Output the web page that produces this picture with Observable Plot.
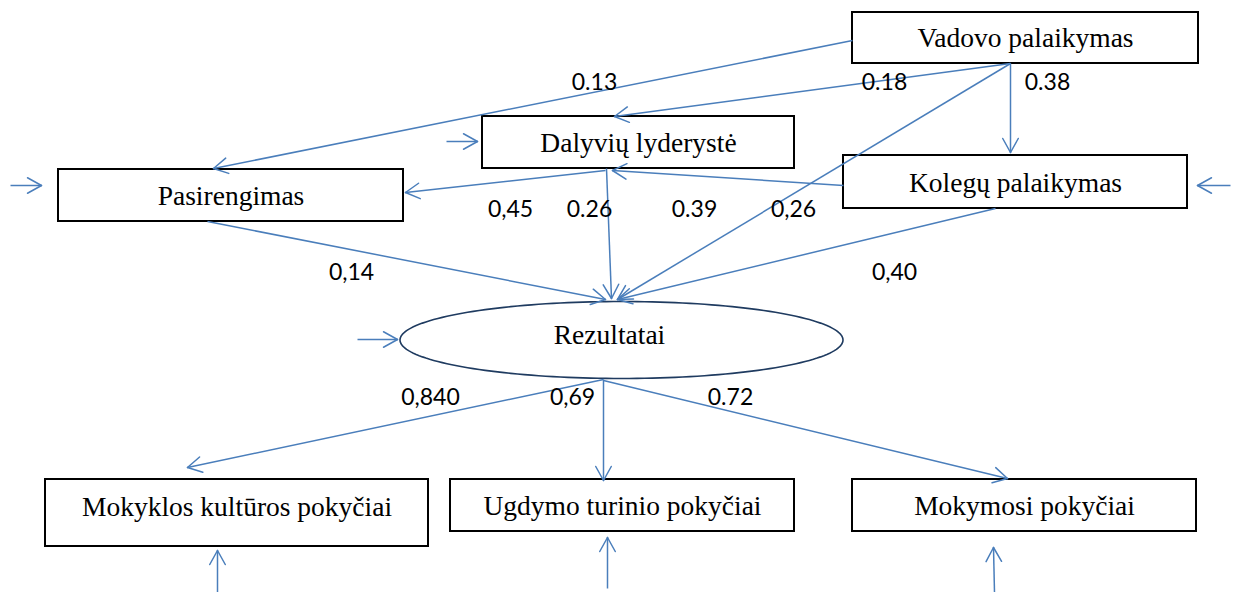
<!DOCTYPE html>
<html><head><meta charset="utf-8">
<script src="https://cdn.jsdelivr.net/npm/d3@7"></script>
<script src="https://cdn.jsdelivr.net/npm/@observablehq/plot@0.6"></script>
<style>body{margin:0;background:#fff;overflow:hidden}</style>
</head><body><div id="chart"></div>
<script>
// Nodes (rectangular variables)
const boxNames = ["Vadovo palaikymas","Dalyvių lyderystė","Pasirengimas","Kolegų palaikymas","Mokyklos kultūros pokyčiai","Ugdymo turinio pokyčiai","Mokymosi pokyčiai"];
const boxX1 = [852, 482, 58, 843, 45, 450, 852];
const boxX2 = [1198, 794, 403, 1187, 428, 794, 1196];
const boxY1 = [12, 116, 169, 155, 479, 479, 479];
const boxY2 = [63, 168, 221, 208, 546, 531, 531];
const boxTextY = [38, 143, 196, 183, 507, 506, 506];

// Latent (ellipse)
const latentName = "Rezultatai";
const latentCenter = [621, 339.5];
const latentRadii = [221.5, 38.5];
const latentTextX = 609;
const latentTextY = 335;

// Paths between variables
const pathX1 = [852, 1010, 1010, 1010, 605, 606, 843, 995, 207, 603, 603, 603];
const pathY1 = [40, 63, 63, 63, 170, 168, 185, 208, 221, 379, 379, 380];
const pathX2 = [213, 614, 1010, 617, 405, 611, 612, 617, 605, 187, 603, 1007];
const pathY2 = [168, 116, 152, 299, 192, 298, 170, 299, 299, 467, 480, 478];

// Error (disturbance) arrows
const errX1 = [10, 446, 1230, 357, 217, 607, 994];
const errY1 = [185, 141, 185, 339, 592, 588, 592];
const errX2 = [41, 477, 1197, 397, 217, 607, 993];
const errY2 = [185, 141, 185, 339, 550, 537, 547];

// Path coefficients
const coefText = ["0.13","0.18","0.38","0,45","0.26","0.39","0,26","0,14","0,40","0,840","0,69","0.72"];
const coefX = [594, 884, 1047, 510, 589, 694, 793, 351, 894, 430, 572, 730];
const coefY = [82, 82, 82, 209, 209, 209, 209, 272, 272, 397, 397, 397];

const boxes = boxNames.map((name, i) => ({name, x1: boxX1[i], x2: boxX2[i], y1: boxY1[i], y2: boxY2[i], tx: (boxX1[i] + boxX2[i]) / 2, ty: boxTextY[i]}));
const paths = pathX1.map((_, i) => ({x1: pathX1[i], y1: pathY1[i], x2: pathX2[i], y2: pathY2[i]}));
const errors = errX1.map((_, i) => ({x1: errX1[i], y1: errY1[i], x2: errX2[i], y2: errY2[i]}));
const allArrows = paths.concat(errors);
const coefs = coefText.map((t, i) => ({t, x: coefX[i], y: coefY[i]}));
const ellipse = d3.range(0, 360, 2).map(a => ({x: latentCenter[0] + latentRadii[0] * Math.cos(a * Math.PI / 180), y: latentCenter[1] + latentRadii[1] * Math.sin(a * Math.PI / 180)}));

// open arrowhead wings derived from each arrow's end point and direction
const wingLen = 16, wingAng = 29 * Math.PI / 180;
const wings = allArrows.flatMap(d => {
  const th = Math.atan2(d.y2 - d.y1, d.x2 - d.x1);
  return [-1, 1].map(s => ({x1: d.x2, y1: d.y2, x2: d.x2 - wingLen * Math.cos(th + s * wingAng), y2: d.y2 - wingLen * Math.sin(th + s * wingAng)}));
});

const blue = "#4A7EBB";
const chart = Plot.plot({
  width: 1235, height: 592, margin: 0,
  x: {domain: [0, 1235], range: [0, 1235], axis: null},
  y: {domain: [0, 592], range: [0, 592], axis: null},
  style: {background: "white"},
  marks: [
    Plot.rect(boxes, {x1: "x1", x2: "x2", y1: "y1", y2: "y2", fill: "white", stroke: "black", strokeWidth: 2}),
    Plot.line(ellipse, {x: "x", y: "y", curve: "linear-closed", stroke: "#1F3B60", strokeWidth: 1.6, fill: "white"}),
    Plot.text(boxes, {x: "tx", y: "ty", text: "name", fontFamily: "Liberation Serif", fontSize: 27.5, fill: "black"}),
    Plot.text([latentName], {x: () => latentTextX, y: () => latentTextY, text: d => d, fontFamily: "Liberation Serif", fontSize: 27.5, fill: "black"}),
    Plot.link(allArrows, {x1: "x1", y1: "y1", x2: "x2", y2: "y2", stroke: blue, strokeWidth: 1.5}),
    Plot.link(wings, {x1: "x1", y1: "y1", x2: "x2", y2: "y2", stroke: blue, strokeWidth: 1.5, strokeLinecap: "round"}),
    Plot.text(coefs, {x: "x", y: "y", text: "t", fontFamily: "Lato", fontSize: 23, fill: "black"})
  ]
});
document.getElementById("chart").append(chart);
</script>
</body></html>
